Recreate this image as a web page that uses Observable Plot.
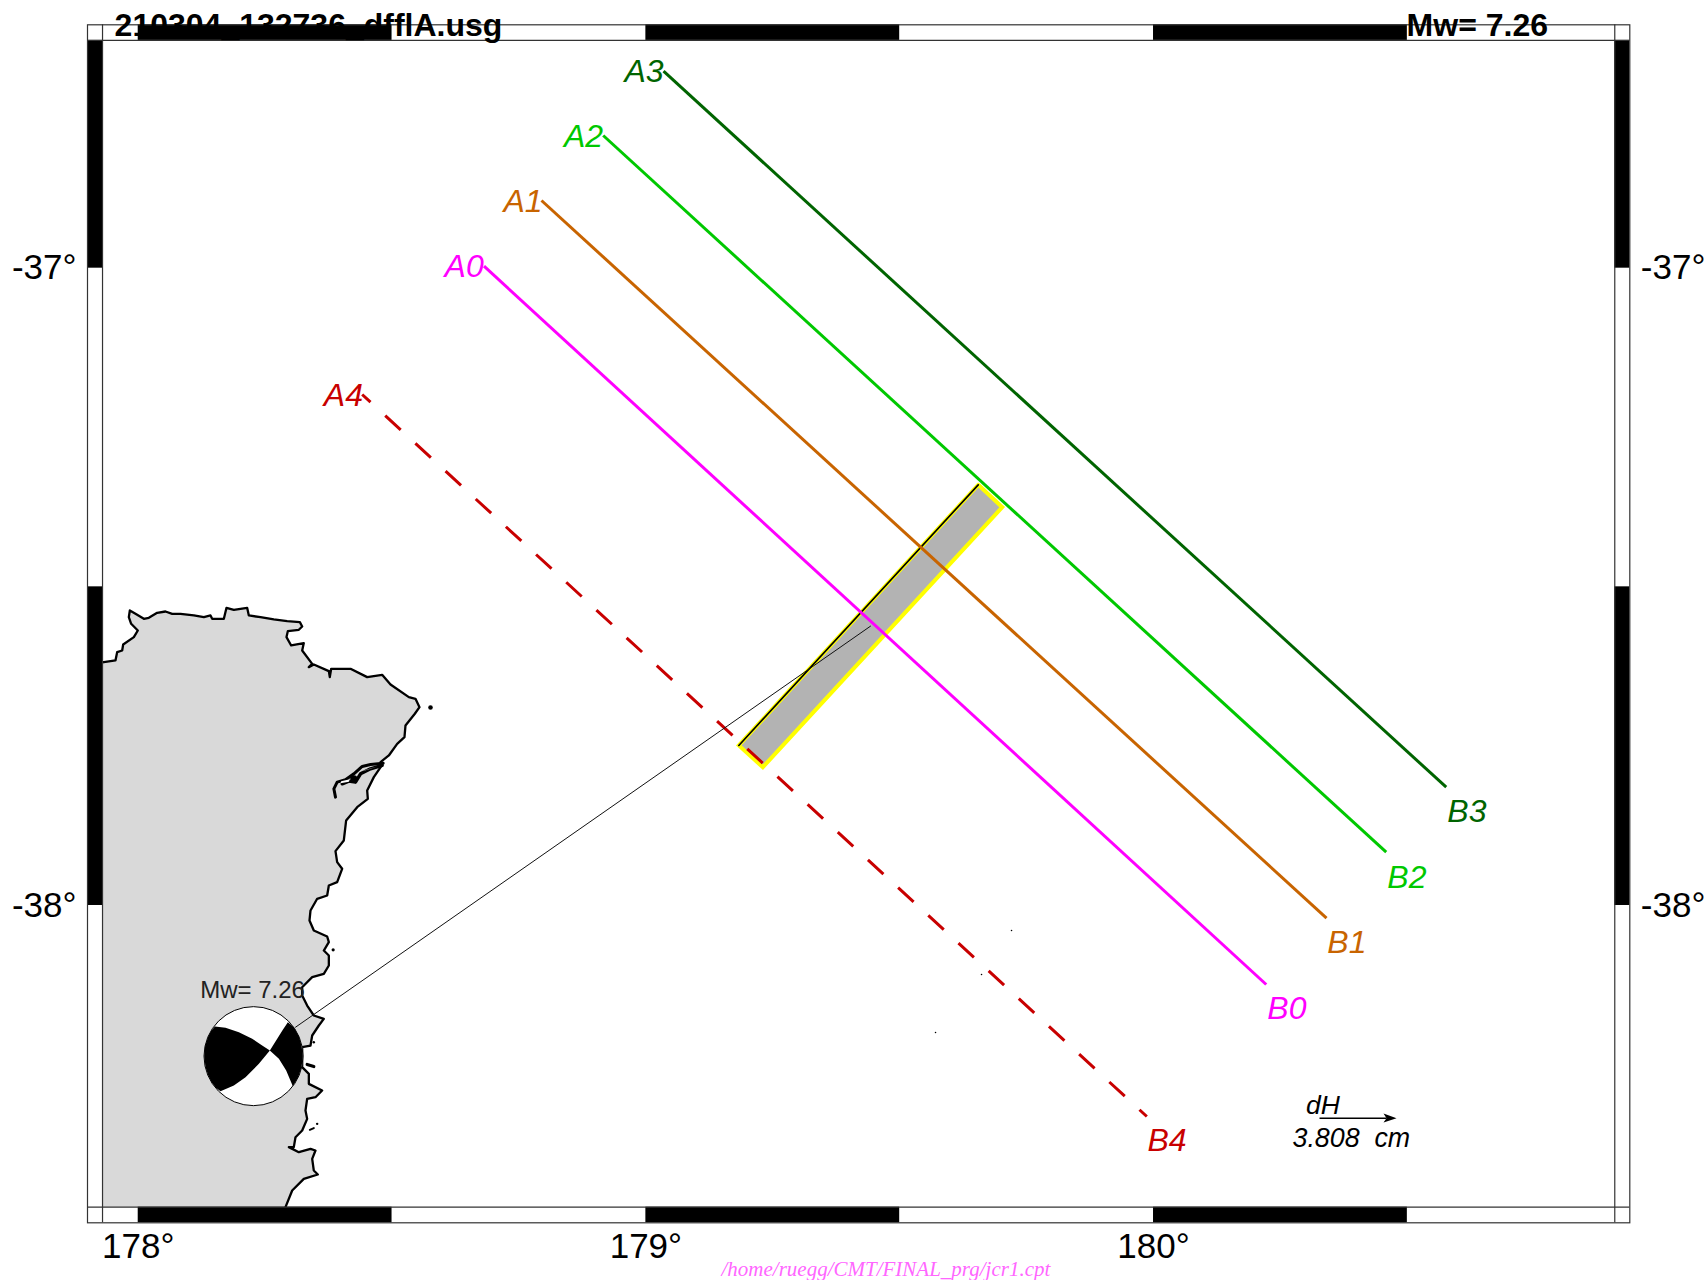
<!DOCTYPE html>
<html>
<head>
<meta charset="utf-8">
<script src="https://cdn.jsdelivr.net/npm/d3@7"></script>
<script src="https://cdn.jsdelivr.net/npm/@observablehq/plot@0.6"></script>
<style>html,body{margin:0;padding:0;background:#fff}svg{display:block}</style>
</head>
<body>
<div id="chart"></div>
<script>
// Map extent and frame (degrees)
const lonDomain = [177.9001, 180.9382];
const latDomain = [-38.4979, -36.6181];
const innerLon = [177.9297, 180.9086];
const innerLat = [-38.4734, -36.6426];
const xTicks = [178, 179, 180];
const yTicks = [-37, -38];
const xBands = [[178, 178.5], [179, 179.5], [180, 180.5]];
const yBands = [[-37, -36.6426], [-38, -37.5]];

// Profile lines
const lineNames = ["0", "1", "2", "3", "4"];
const lineColors = ["#ff00ff", "#c86400", "#00c800", "#006400", "#c80000"];
const lineStartLon = [178.6812, 178.7944, 178.9160, 179.0348, 178.4412];
const lineStartLat = [-36.9969, -36.8938, -36.7918, -36.6909, -37.1982];
const lineEndLon = [180.2220, 180.3408, 180.4584, 180.5766, 179.9868];
const lineEndLat = [-38.1240, -38.0199, -37.9164, -37.8144, -38.3311];
const labelALon = [178.6034, 178.7196, 178.8386, 178.9579, 178.3656];
const labelALat = [-37.0141, -36.9121, -36.8101, -36.7081, -37.2159];
const labelBLon = [180.2241, 180.3423, 180.4605, 180.5787, 179.9881];
const labelBLat = [-38.1778, -38.0749, -37.9722, -37.8693, -38.3845];

// Fault plane and leader line
const fault = [[179.6547, -37.3399], [179.7020, -37.3750], [179.2304, -37.7830], [179.1831, -37.7489]];
const faultEdge = [[179.6547, -37.3399], [179.1831, -37.7489]];
const leader = [[178.3099, -38.1910], [179.4425, -37.5617]];

// Coast
const coast = [
[177.9290,-37.6187],[177.9552,-37.6155],[177.9585,-37.6025],[177.9684,-37.5999],[177.9704,-37.5904],[177.9914,-37.5789],
[177.9992,-37.5685],[177.9861,-37.5580],[177.9815,-37.5476],[177.9835,-37.5371],[177.9946,-37.5423],[178.0111,-37.5502],
[178.0209,-37.5486],[178.0373,-37.5408],[178.0537,-37.5387],[178.0669,-37.5423],[178.0833,-37.5423],[178.1096,-37.5449],
[178.1293,-37.5476],[178.1424,-37.5449],[178.1457,-37.5502],[178.1687,-37.5502],[178.1739,-37.5329],[178.1884,-37.5360],
[178.2146,-37.5329],[178.2179,-37.5449],[178.2409,-37.5476],[178.2671,-37.5512],[178.2934,-37.5538],[178.3184,-37.5554],
[178.3230,-37.5622],[178.3164,-37.5674],[178.2947,-37.5695],[178.2921,-37.5789],[178.3013,-37.5920],[178.3262,-37.5883],
[178.3230,-37.5999],[178.3427,-37.6208],[178.3361,-37.6260],[178.3459,-37.6218],[178.3755,-37.6323],[178.3774,-37.6417],
[178.3801,-37.6286],[178.3952,-37.6286],[178.4182,-37.6286],[178.4510,-37.6417],
[178.4805,-37.6380],[178.4970,-37.6532],[178.5331,-37.6731],[178.5462,-37.6757],[178.5541,-37.6888],[178.5449,-37.6992],
[178.5265,-37.7175],[178.5245,-37.7358],[178.5101,-37.7463],[178.4937,-37.7646],[178.4773,-37.7751],[178.4805,-37.7792],
[178.4641,-37.7986],[178.4510,-37.8195],[178.4523,-37.8326],[178.4313,-37.8457],[178.4096,-37.8666],[178.4050,-37.8980],
[178.3886,-37.9147],[178.3919,-37.9320],[178.4017,-37.9424],[178.3919,-37.9633],[178.3755,-37.9686],[178.3722,-37.9843],
[178.3525,-37.9895],[178.3394,-38.0078],[178.3374,-38.0235],[178.3459,-38.0393],[178.3722,-38.0487],[178.3755,-38.0576],
[178.3656,-38.0707],[178.3755,-38.0785],[178.3755,-38.0942],[178.3656,-38.1073],[178.3427,-38.1125],[178.3230,-38.1282],
[178.3230,-38.1413],[178.3328,-38.1570],[178.3459,-38.1726],[178.3656,-38.1779],[178.3558,-38.1883],[178.3427,-38.2040],
[178.3394,-38.2197],[178.3230,-38.2223],[178.3230,-38.2537],[178.3361,-38.2642],[178.3361,-38.2799],[178.3623,-38.2903],
[178.3492,-38.3008],[178.3328,-38.3034],[178.3295,-38.3217],[178.3328,-38.3348],[178.3230,-38.3531],[178.3098,-38.3636],
[178.3065,-38.3792],[178.2967,-38.3792],[178.3164,-38.3871],[178.3394,-38.3819],[178.3492,-38.3845],[178.3427,-38.3976],
[178.3459,-38.4159],[178.3538,-38.4221],[178.3262,-38.4289],[178.3033,-38.4472],[178.2901,-38.4734]
];
const landCorner = [[177.9297, -38.4734], [177.9297, -37.6187]];
const inletNorth = [[178.4825,-37.7767],[178.4576,-37.7788],[178.4412,-37.7819],[178.4248,-37.7934],[178.4083,-37.8028],[178.3919,-37.8065],[178.3854,-37.8169],[178.3886,-37.8300]];
const inletSouth = [[178.4806,-37.7803],[178.4576,-37.7856],[178.4379,-37.7934],[178.4280,-37.8065],[178.4149,-37.8049],[178.4018,-37.8091]];
const lagoonBlob = [[178.4248, -37.8013]];
const sliverEast = [[178.4707,-37.7819],[178.4445,-37.7882],[178.4412,-37.7892],[178.4576,-37.7856]];
const sliverWest = [[178.4169,-37.8018],[178.3998,-37.8049],[178.3985,-37.8081],[178.4149,-37.8060]];
const islandLarge = [[178.5758,-37.6893]];
const islandMedium = [[178.3840,-38.0696]];
const islandSmall = [[178.3459,-38.2145],[178.3525,-38.3426]];
const islandLongA = [[178.3328,-38.2495],[178.3459,-38.2527]];
const islandLongB = [[178.3381,-38.3520],[178.3459,-38.3494]];
const specks = [[179.7203,-38.0392],[179.6612,-38.1083],[179.5706,-38.1993]];

// Focal mechanism
const ballCentre = [[178.2271, -38.2364]];
const lobeLeft = [
[178.1510,-38.1899],[178.1720,-38.1920],[178.1983,-38.1988],[178.2245,-38.2092],[178.2442,-38.2197],[178.2593,-38.2276],
[178.2377,-38.2485],[178.2114,-38.2694],[178.1884,-38.2825],[178.1621,-38.2914],[178.1530,-38.2861],[178.1444,-38.2772],
[178.1379,-38.2668],[178.1326,-38.2537],[178.1300,-38.2364],[178.1319,-38.2197],[178.1379,-38.2056],[178.1438,-38.1967]
];
const lobeRight = [
[178.2593,-38.2276],[178.2738,-38.2092],[178.2849,-38.1951],[178.2948,-38.1831],[178.3066,-38.1909],[178.3165,-38.2051],
[178.3217,-38.2197],[178.3243,-38.2364],[178.3217,-38.2537],[178.3151,-38.2694],[178.3046,-38.2835],[178.2915,-38.2589],[178.2771,-38.2406]
];

// Vector legend
const arrowShaft = [[180.3270, -38.3338], [180.4590, -38.3338]];
const arrowHead = [[180.4787,-38.3338],[180.4531,-38.3264],[180.4590,-38.3338],[180.4531,-38.3405]];

// Texts
const titleLeft = {text: "210304_132736_dfflA.usg", lon: 177.9535, lat: -36.6349};
const titleRight = {text: "Mw= 7.26", lon: 180.4985, lat: -36.6349};
const ballLabel = {text: "Mw= 7.26", lon: 178.1221, lat: -38.1459};
const dHLabel = {text: "dH", lon: 180.3006, lat: -38.3264};
const scaleLabel = {text: "3.808  cm", lon: 180.2738, lat: -38.3797};
const pathLabel = {text: "/home/ruegg/CMT/FINAL_prg/jcr1.cpt", lon: 179.1490, lat: -38.5806};

const sans = "Liberation Sans, Arial, Helvetica, sans-serif";
const serif = "Liberation Serif, Times New Roman, serif";
const label = (d, o) => Plot.text([d], {x: "lon", y: "lat", text: "text", textAnchor: "start", lineAnchor: "bottom", fontFamily: sans, ...o});
const frameStroke = "#333";

const lineMarks = lineNames.map((name, i) => Plot.line(
  [[lineStartLon[i], lineStartLat[i]], [lineEndLon[i], lineEndLat[i]]],
  name === "4"
    ? {stroke: lineColors[i], strokeWidth: 3, strokeDasharray: "21,20", strokeDashoffset: 9.7, strokeLinecap: "butt"}
    : {stroke: lineColors[i], strokeWidth: 3, strokeLinecap: "butt"}
));
const endLabels = lineNames.flatMap((name, i) => [
  label({text: "A" + name, lon: labelALon[i], lat: labelALat[i]}, {fill: lineColors[i], fontSize: 32, fontStyle: "italic"}),
  label({text: "B" + name, lon: labelBLon[i], lat: labelBLat[i]}, {fill: lineColors[i], fontSize: 32, fontStyle: "italic"})
]);

const chart = Plot.plot({
  width: 1705,
  height: 1280,
  marginLeft: 87,
  marginRight: 75.7,
  marginTop: 24.3,
  marginBottom: 57.7,
  style: {background: "#fff", fontFamily: sans, overflow: "visible"},
  x: {domain: lonDomain, axis: null},
  y: {domain: latDomain, axis: null},
  marks: [
    // land
    Plot.line([...coast, ...landCorner], {fill: "#d9d9d9", stroke: "none"}),
    Plot.line(coast, {stroke: "#000", strokeWidth: 2.3}),
    Plot.line(inletNorth, {stroke: "#000", strokeWidth: 3}),
    Plot.line(inletSouth, {stroke: "#000", strokeWidth: 3.4}),
    Plot.dot(lagoonBlob, {r: 3.6, fill: "#000", stroke: "none"}),
    Plot.line(sliverEast, {fill: "#fff", stroke: "none"}),
    Plot.line(sliverWest, {fill: "#fff", stroke: "none"}),
    Plot.dot(islandLarge, {r: 2.3, fill: "#000", stroke: "none"}),
    Plot.dot(islandMedium, {r: 1.6, fill: "#000", stroke: "none"}),
    Plot.dot(islandSmall, {r: 1.2, fill: "#000", stroke: "none"}),
    Plot.line(islandLongA, {stroke: "#000", strokeWidth: 3.2}),
    Plot.line(islandLongB, {stroke: "#000", strokeWidth: 2}),
    Plot.dot(specks, {r: 0.8, fill: "#000", stroke: "none"}),
    // frame
    Plot.rectX(xBands, {x1: "0", x2: "1", y1: innerLat[0], y2: latDomain[0], fill: "#000"}),
    Plot.rectX(xBands, {x1: "0", x2: "1", y1: innerLat[1], y2: latDomain[1], fill: "#000"}),
    Plot.rectY(yBands, {y1: "0", y2: "1", x1: lonDomain[0], x2: innerLon[0], fill: "#000"}),
    Plot.rectY(yBands, {y1: "0", y2: "1", x1: innerLon[1], x2: lonDomain[1], fill: "#000"}),
    Plot.ruleX(innerLon, {stroke: frameStroke, strokeWidth: 1.2}),
    Plot.ruleY(innerLat, {stroke: frameStroke, strokeWidth: 1.2}),
    Plot.frame({stroke: frameStroke, strokeWidth: 1.2}),
    // fault plane
    Plot.line(fault.concat([fault[0]]), {fill: "#b3b3b3", stroke: "#ffff00", strokeWidth: 4, strokeLinejoin: "miter", strokeMiterlimit: 4}),
    Plot.line(faultEdge, {stroke: "#000", strokeWidth: 1.7}),
    // profiles
    ...lineMarks,
    // focal mechanism
    Plot.line(leader, {stroke: "#111", strokeWidth: 1}),
    label(ballLabel, {fill: "#222", fontSize: 24}),
    Plot.dot(ballCentre, {r: 49.5, fill: "#fff", stroke: "#000", strokeWidth: 1}),
    Plot.line(lobeLeft, {fill: "#000", stroke: "none"}),
    Plot.line(lobeRight, {fill: "#000", stroke: "none"}),
    // labels
    ...endLabels,
    Plot.line(arrowShaft, {stroke: "#000", strokeWidth: 1.6, strokeLinecap: "butt"}),
    Plot.line(arrowHead, {fill: "#000", stroke: "none"}),
    label(dHLabel, {fill: "#000", fontSize: 26.5, fontStyle: "italic"}),
    label(scaleLabel, {fill: "#000", fontSize: 26.8, fontStyle: "italic"}),
    label(titleLeft, {fill: "#000", fontSize: 32, fontWeight: "bold"}),
    label(titleRight, {fill: "#000", fontSize: 32, fontWeight: "bold"}),
    label(pathLabel, {fill: "#ff66ff", fontSize: 21, fontStyle: "italic", fontFamily: serif}),
    // axes
    Plot.axisX(xTicks, {anchor: "bottom", tickSize: 0, tickPadding: 10.5, fontSize: 35, label: null, tickFormat: d => `${d}°`, fill: "#000"}),
    Plot.axisY(yTicks, {anchor: "left", tickSize: 0, tickPadding: 11, fontSize: 35, label: null, tickFormat: d => `${d}°`, fill: "#000"}),
    Plot.axisY(yTicks, {anchor: "right", tickSize: 0, tickPadding: 11, fontSize: 35, label: null, tickFormat: d => `${d}°`, fill: "#000"})
  ]
});
document.getElementById("chart").appendChild(chart);
</script>
</body>
</html>
